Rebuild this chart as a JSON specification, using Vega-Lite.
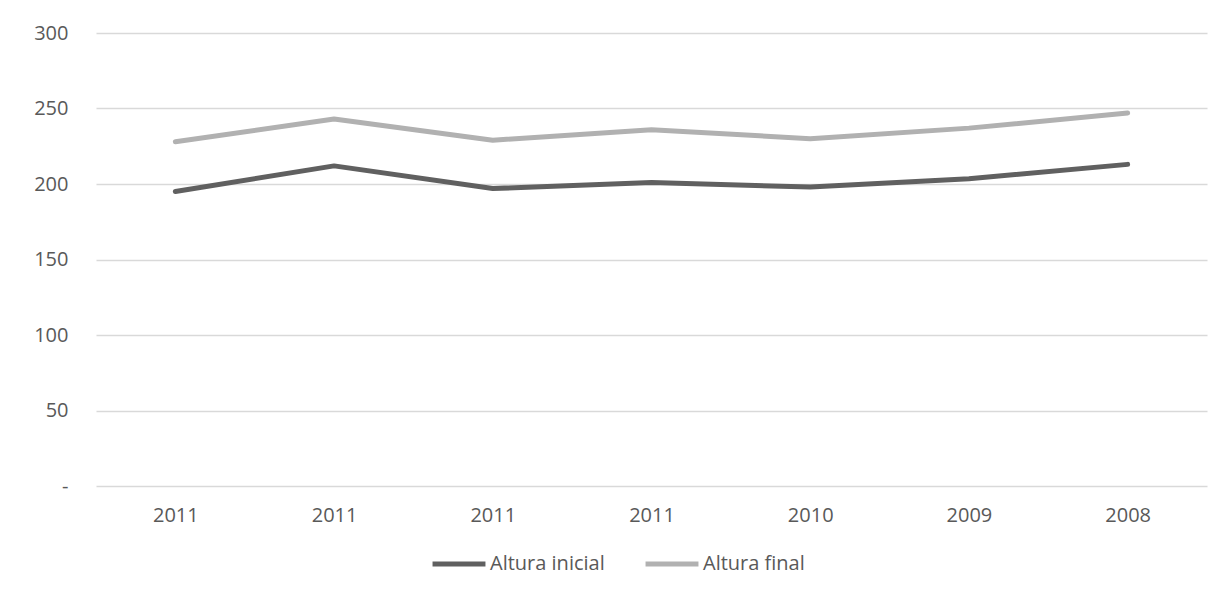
{
  "$schema": "https://vega.github.io/schema/vega-lite/v6.json",
  "autosize": "none",
  "padding": {"left": 96, "top": 33, "right": 21, "bottom": 116},
  "width": 1111,
  "height": 453,
  "background": "white",
  "config": {
    "view": {"stroke": null},
    "font": "Open Sans"
  },
  "data": {
    "values": [
      {"idx": 0, "year": "2011", "serie": "Altura inicial", "valor": 195},
      {"idx": 1, "year": "2011", "serie": "Altura inicial", "valor": 212},
      {"idx": 2, "year": "2011", "serie": "Altura inicial", "valor": 197},
      {"idx": 3, "year": "2011", "serie": "Altura inicial", "valor": 201},
      {"idx": 4, "year": "2010", "serie": "Altura inicial", "valor": 198},
      {"idx": 5, "year": "2009", "serie": "Altura inicial", "valor": 203.5},
      {"idx": 6, "year": "2008", "serie": "Altura inicial", "valor": 213},
      {"idx": 0, "year": "2011", "serie": "Altura final", "valor": 228},
      {"idx": 1, "year": "2011", "serie": "Altura final", "valor": 243},
      {"idx": 2, "year": "2011", "serie": "Altura final", "valor": 229},
      {"idx": 3, "year": "2011", "serie": "Altura final", "valor": 236},
      {"idx": 4, "year": "2010", "serie": "Altura final", "valor": 230},
      {"idx": 5, "year": "2009", "serie": "Altura final", "valor": 237},
      {"idx": 6, "year": "2008", "serie": "Altura final", "valor": 247}
    ]
  },
  "mark": {"type": "line", "strokeWidth": 5, "strokeCap": "round", "strokeJoin": "round"},
  "encoding": {
    "x": {
      "field": "idx", "type": "ordinal",
      "scale": {"type": "point", "padding": 0.5},
      "axis": {
        "title": null, "labelAngle": 0, "domain": false, "ticks": false, "grid": false,
        "labelPadding": 19, "labelFontSize": 20, "labelColor": "#595959", "labelFont": "Open Sans",
        "labelExpr": "['2011','2011','2011','2011','2010','2009','2008'][datum.value]"
      }
    },
    "y": {
      "field": "valor", "type": "quantitative",
      "scale": {"domain": [0, 300], "nice": false},
      "axis": {
        "title": null, "values": [0, 50, 100, 150, 200, 250, 300],
        "domain": false, "ticks": false, "gridColor": "#d9d9d9", "gridWidth": 1.3,
        "labelPadding": 28, "labelFontSize": 20, "labelColor": "#595959", "labelFont": "Open Sans",
        "labelExpr": "datum.value == 0 ? '-' : datum.label"
      }
    },
    "color": {
      "field": "serie", "type": "nominal",
      "scale": {"domain": ["Altura inicial", "Altura final"], "range": ["#606060", "#b1b1b1"]},
      "legend": {
        "title": null, "orient": "none", "direction": "horizontal",
        "legendX": 334, "legendY": 502,
        "symbolType": "stroke", "symbolStrokeWidth": 5, "symbolSize": 2800,
        "labelOffset": 2, "columnPadding": 30,
        "labelFont": "Open Sans", "labelFontSize": 20, "labelColor": "#595959"
      }
    }
  }
}
